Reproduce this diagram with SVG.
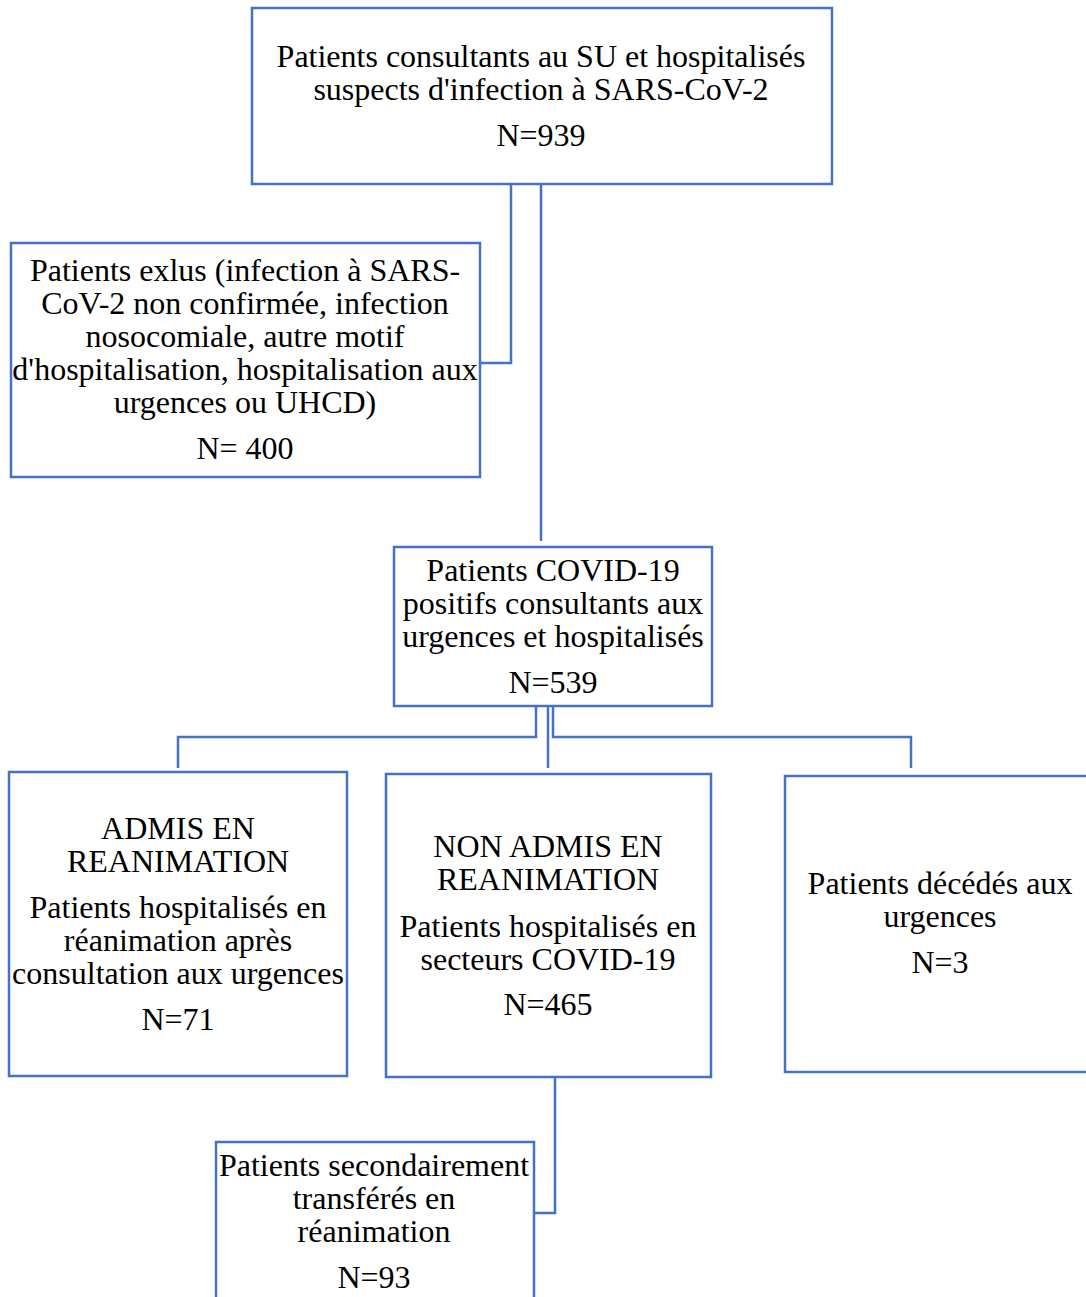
<svg xmlns="http://www.w3.org/2000/svg" width="1086" height="1297" viewBox="0 0 1086 1297">
<style>
.box{fill:#fff;stroke:#4472C4;stroke-width:2.5}
.ln{fill:none;stroke:#4472C4;stroke-width:2.5}
text{font-family:"Liberation Serif","Times New Roman",serif;font-size:32px;fill:#000;text-anchor:middle}
</style>
<rect width="1086" height="1297" fill="#fff"/>
<g id="connectors">
<polyline class="ln" points="511,184 511,363 480,363"/>
<line class="ln" x1="541" y1="184" x2="541" y2="541"/>
<polyline class="ln" points="536,706 536,737 178,737 178,768"/>
<line class="ln" x1="548" y1="706" x2="548" y2="768"/>
<polyline class="ln" points="553,706 553,737 911,737 911,768"/>
<polyline class="ln" points="555,1077 555,1213 534,1213"/>
</g>
<g id="n-top">
<rect class="box" x="252" y="8" width="580" height="176"/>
<text x="541" y="67">Patients consultants au SU et hospitalisés</text>
<text x="541" y="100">suspects d'infection à SARS-CoV-2</text>
<text x="541" y="146">N=939</text>
</g>
<g id="n-excl">
<rect class="box" x="11" y="243" width="469" height="234"/>
<text x="245" y="281">Patients exlus (infection à SARS-</text>
<text x="245" y="314">CoV-2 non confirmée, infection</text>
<text x="245" y="347">nosocomiale, autre motif</text>
<text x="245" y="380">d'hospitalisation, hospitalisation aux</text>
<text x="245" y="413">urgences ou UHCD)</text>
<text x="245" y="459">N= 400</text>
</g>
<g id="n-covid">
<rect class="box" x="394" y="547" width="318" height="159"/>
<text x="553" y="581">Patients COVID-19</text>
<text x="553" y="614">positifs consultants aux</text>
<text x="553" y="647">urgences et hospitalisés</text>
<text x="553" y="693">N=539</text>
</g>
<g id="n-rea">
<rect class="box" x="9" y="772" width="338" height="304"/>
<text x="178" y="839">ADMIS EN</text>
<text x="178" y="872">REANIMATION</text>
<text x="178" y="918">Patients hospitalisés en</text>
<text x="178" y="951">réanimation après</text>
<text x="178" y="984">consultation aux urgences</text>
<text x="178" y="1030">N=71</text>
</g>
<g id="n-nonrea">
<rect class="box" x="386" y="774" width="325" height="303"/>
<text x="548" y="857">NON ADMIS EN</text>
<text x="548" y="890">REANIMATION</text>
<text x="548" y="937">Patients hospitalisés en</text>
<text x="548" y="970">secteurs COVID-19</text>
<text x="548" y="1015">N=465</text>
</g>
<g id="n-deces">
<rect class="box" x="785" y="776" width="310" height="296"/>
<text x="940" y="894">Patients décédés aux</text>
<text x="940" y="927">urgences</text>
<text x="940" y="973">N=3</text>
</g>
<g id="n-transf">
<rect class="box" x="216" y="1142" width="318" height="170"/>
<text x="374" y="1176">Patients secondairement</text>
<text x="374" y="1209">transférés en</text>
<text x="374" y="1242">réanimation</text>
<text x="374" y="1288">N=93</text>
</g>
</svg>
